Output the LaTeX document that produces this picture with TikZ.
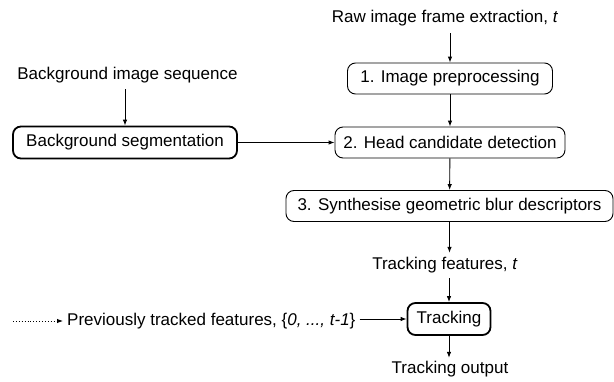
\documentclass[tikz,border=0pt]{standalone}
\usepackage{fontspec}
\setmainfont{Liberation Sans}
\usetikzlibrary{arrows.meta}
\begin{document}
\begin{tikzpicture}[x=1pt,y=-1pt,
  every node/.style={font=\fontsize{17}{20}\selectfont},
  lbl/.style={inner sep=0pt},
  stage/.style={draw, line width=0.9pt, rounded corners=8pt, inner sep=0pt,
    minimum height=31pt},
  keystage/.style={stage, line width=1.8pt},
  arr/.style={line width=0.9pt, -{Latex[length=6pt,width=4.5pt]}},
  flow/.style={arr, dotted}]
\useasboundingbox (0,0) rectangle (614,381);

% main pipeline
\node[lbl] (raw) at (445,18) {Raw image frame extraction, \textit{t}};
\node[stage, minimum width=205pt] (pre) at (450,78.5) {1. Image preprocessing};
\node[stage, minimum width=230pt] (head) at (450,142.5) {2. Head candidate detection};
\node[stage, minimum width=327pt] (blur) at (449.5,206) {3. Synthesise geometric blur descriptors};
\node[lbl] (feat) at (445,265) {Tracking features, \textit{t}};
\node[keystage, minimum width=83pt, minimum height=32pt] (track) at (449,319) {Tracking};
\node[lbl] (out) at (450,369) {Tracking output};

% background branch
\node[lbl] (bgseq) at (127.5,75) {Background image sequence};
\node[keystage, minimum width=224pt, minimum height=32pt] (bgseg) at (125,142.5) {Background segmentation};

% history of tracked features
\node[lbl, anchor=west] (prev) at (67,321) {Previously tracked features, \{\textit{0, ..., t-1}\}};
\coordinate (hist) at (13,321);

% connectors
\draw[arr] ([yshift=-7pt]raw.south -| pre.north) -- (pre.north);
\draw[arr] (pre) -- (head);
\draw[arr] (head) -- (blur);
\draw[arr] (blur.south) -- ([yshift=4pt]feat.north -| blur.south);
\draw[arr] ([yshift=-5pt]feat.south -| track.north) -- (track.north);
\draw[arr] (track.south) -- ([yshift=3pt]out.north -| track.south);
\draw[arr] ([yshift=-6pt]bgseq.south -| bgseg.north) -- (bgseg.north);
\draw[arr] (bgseg.east) -- (head.west);
\draw[arr] ([xshift=4pt]prev.east |- track.west) -- (track.west);
\draw[flow] (hist) -- ([xshift=-4pt]prev.west);
\end{tikzpicture}
\end{document}
